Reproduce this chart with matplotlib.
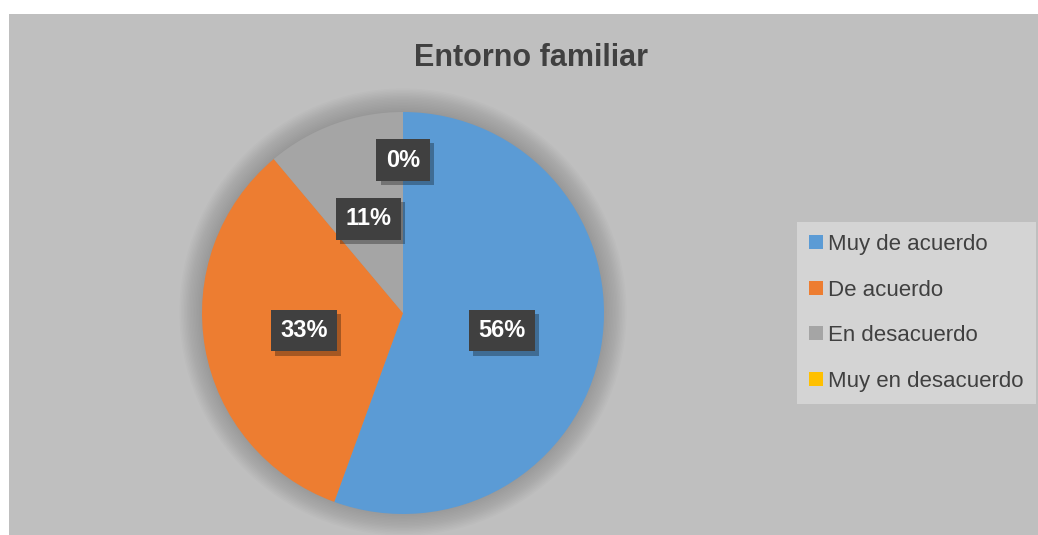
import matplotlib.pyplot as plt
import matplotlib.patheffects as pe
from matplotlib.patches import Rectangle, Circle, Patch
import numpy as np

categorias = ["Muy de acuerdo", "De acuerdo", "En desacuerdo", "Muy en desacuerdo"]
valores = [5, 3, 1, 0]
colores = ["#5B9BD5", "#ED7D31", "#A5A5A5", "#FFC000"]
titulo = "Entorno familiar"

plt.rcParams['font.family'] = ['Liberation Sans', 'DejaVu Sans']

fig = plt.figure(figsize=(10.38, 5.35), dpi=100)
fig.patch.set_facecolor("white")

# fondo gris del grafico
fig.patches.append(Rectangle((9 / 1038, 0), 1 - 9 / 1038, (535 - 14) / 535,
                             transform=fig.transFigure, facecolor="#BFBFBF",
                             edgecolor="none", zorder=-5))

# ejes del pastel: centro (403, 313) px, radio 201 px
R = 201
lim = 1.3
half = R * lim
ax = fig.add_axes([(403 - half) / 1038, (535 - 313 - half) / 535,
                   2 * half / 1038, 2 * half / 535])

wedges, _ = ax.pie(valores, colors=colores, startangle=90, counterclock=False,
                   radius=1, wedgeprops=dict(linewidth=0))
for w in wedges:
    w.set_zorder(2)

ax.set_xlim(-lim, lim)
ax.set_ylim(-lim, lim)
ax.set_aspect("equal")
ax.axis("off")

# sombra difusa alrededor del pastel
for i in range(16):
    ax.add_patch(Circle((0, 0.005), 1 + 0.0075 * i, facecolor="black",
                        edgecolor="none", alpha=0.011, zorder=1))

total = sum(valores)
for w, v in zip(wedges, valores):
    ang = np.deg2rad((w.theta1 + w.theta2) / 2)
    dist = 0.5 if v > 0 else 0.76
    x, y = dist * np.cos(ang), dist * np.sin(ang)
    t = ax.text(x, y, "%d%%" % round(100 * v / total), ha="center", va="center",
                fontsize=17, fontweight="bold", color="white", zorder=4,
                bbox=dict(boxstyle="square,pad=0.4", fc="#404040", ec="none"))
    t.get_bbox_patch().set_path_effects([
        pe.SimplePatchShadow(offset=(3, -3), shadow_rgbFace="black", alpha=0.3),
        pe.Normal()])

fig.text(531 / 1038, 1 - 58 / 535, titulo, ha="center", va="center",
         fontsize=22, fontweight="bold", color="#404040")

handles = [Patch(facecolor=c, edgecolor="none") for c in colores]
leg = fig.legend(handles, categorias, loc="upper left",
                 bbox_to_anchor=(797 / 1038, 1 - 222 / 535),
                 fontsize=16, frameon=True, fancybox=False, framealpha=1,
                 facecolor="#D4D4D4", edgecolor="none", labelcolor="#404040",
                 handlelength=0.6, handleheight=0.6, handletextpad=0.25,
                 labelspacing=1.1, borderpad=0.55, borderaxespad=0)

fig.savefig("out.png", dpi=100)
